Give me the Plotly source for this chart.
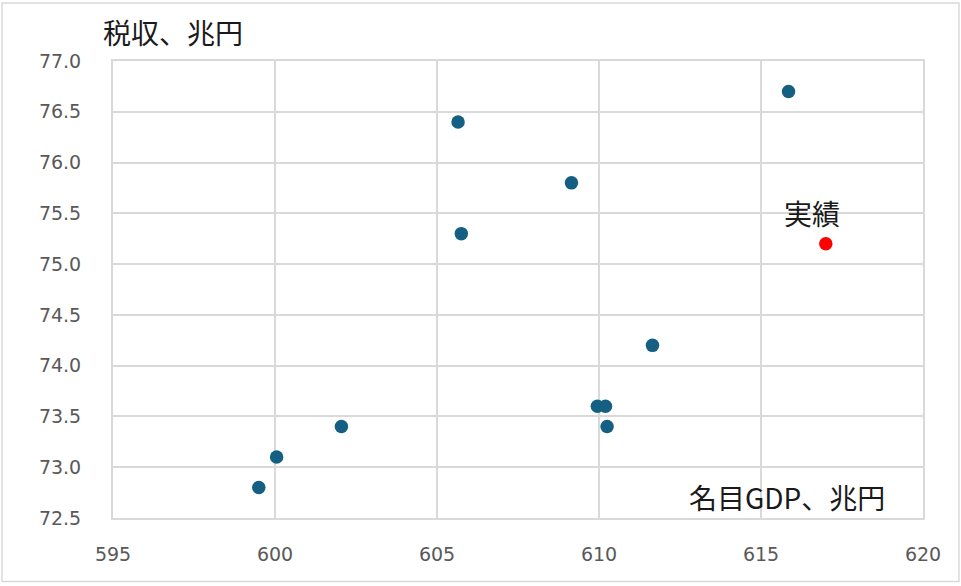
import plotly.graph_objects as go

# Nominal GDP (trillion yen) vs tax revenue (trillion yen)
gdp = [599.5, 600.05, 602.05, 605.65, 605.75, 609.15, 609.95, 610.2, 610.25, 611.65, 615.85]
tax = [72.8, 73.1, 73.4, 76.4, 75.3, 75.8, 73.6, 73.6, 73.4, 74.2, 76.7]
actual_gdp = [617.0]
actual_tax = [75.2]
actual_label = "実績"
x_title = "名目GDP、兆円"
y_title = "税収、兆円"
x_ticks = [595, 600, 605, 610, 615, 620]
y_ticks = [72.5, 73.0, 73.5, 74.0, 74.5, 75.0, 75.5, 76.0, 76.5, 77.0]

jp_font = "Noto Sans CJK JP"
grid = "#D9D9D9"
text_color = "#1a1a1a"

fig = go.Figure()
fig.add_trace(go.Scatter(
    x=gdp, y=tax, mode="markers",
    marker=dict(size=13.5, color="#156082"),
    showlegend=False, hoverinfo="x+y",
))
fig.add_trace(go.Scatter(
    x=actual_gdp, y=actual_tax, mode="markers",
    marker=dict(size=13.5, color="#FF0000"),
    showlegend=False, hoverinfo="x+y",
))

fig.update_layout(
    width=961, height=586,
    margin=dict(l=113, r=38, t=61, b=67.5),
    paper_bgcolor="white", plot_bgcolor="white",
    font=dict(family="DejaVu Sans", size=19, color="#595959"),
    xaxis=dict(
        range=[595, 620], tickvals=x_ticks,
        ticktext=[str(v) for v in x_ticks],
        showgrid=True, gridcolor=grid, gridwidth=2,
        showline=True, linecolor=grid, linewidth=2, mirror=True,
        zeroline=False, ticks="", ticklabelstandoff=18,
    ),
    yaxis=dict(
        range=[72.5, 77.0], tickvals=y_ticks,
        ticktext=[f"{v:.1f}" for v in y_ticks],
        showgrid=True, gridcolor=grid, gridwidth=2,
        showline=True, linecolor=grid, linewidth=2, mirror=True,
        zeroline=False, ticks="", ticklabelstandoff=26,
    ),
    annotations=[
        dict(text=y_title, xref="paper", yref="paper",
             x=-0.015, y=1.063, xanchor="left", yanchor="middle",
             showarrow=False,
             font=dict(family=jp_font, size=28, color=text_color)),
        dict(text=x_title, xref="paper", yref="paper",
             x=0.955, y=0.045, xanchor="right", yanchor="middle",
             showarrow=False,
             font=dict(family=jp_font, size=28, color=text_color)),
        dict(text=actual_label, x=actual_gdp[0], y=actual_tax[0],
             xref="x", yref="y", xanchor="center", yanchor="middle",
             xshift=-14, yshift=31, showarrow=False,
             font=dict(family=jp_font, size=28, color=text_color)),
    ],
    shapes=[
        dict(type="rect", xref="paper", yref="paper",
             x0=-0.137, x1=1.0444, y0=-0.1388, y1=1.1268,
             line=dict(color=grid, width=1.5), fillcolor="rgba(0,0,0,0)",
             layer="below"),
    ],
)

fig.write_html("out.html", config={"displayModeBar": False},
               post_script="document.body.style.margin='0';")
